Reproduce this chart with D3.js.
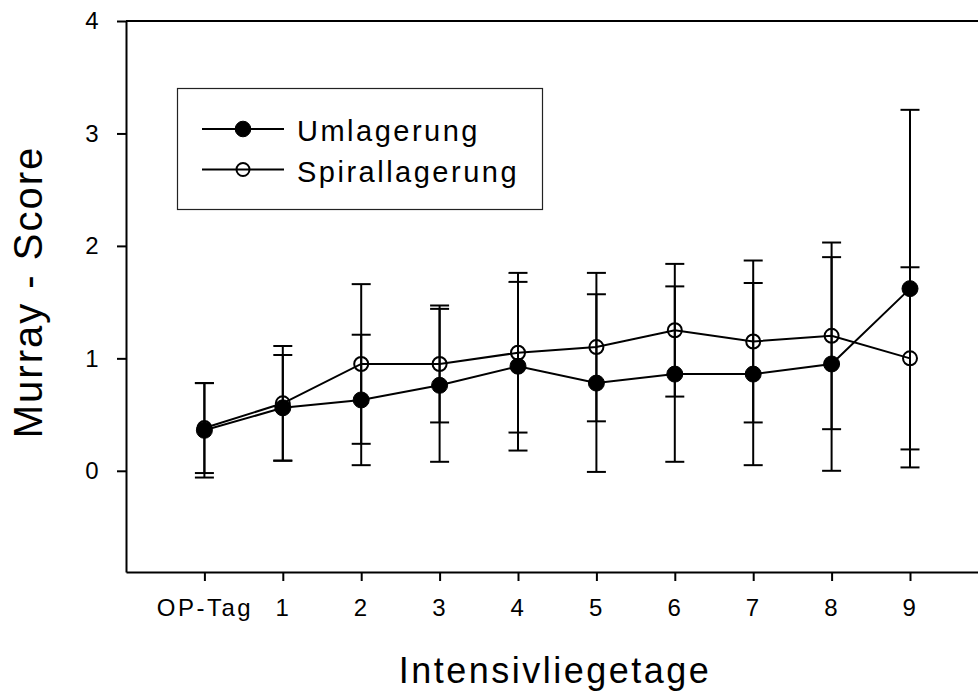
<!DOCTYPE html>
<html>
<head>
<meta charset="utf-8">
<script src="https://cdn.jsdelivr.net/npm/d3@7"></script>
<style>
  html, body { margin: 0; padding: 0; background: #fff; }
  svg { display: block; font-family: "Liberation Sans", Arial, sans-serif; }
</style>
</head>
<body>
<svg id="chart" width="978" height="691"></svg>
<script>
// Day labels along the x axis
const days = ["OP-Tag", "1", "2", "3", "4", "5", "6", "7", "8", "9"];
// Murray score, mean and standard deviation per day
const umlagerungMean = [0.36, 0.56, 0.63, 0.76, 0.93, 0.78, 0.86, 0.86, 0.95, 1.62];
const umlagerungSD   = [0.42, 0.47, 0.58, 0.68, 0.75, 0.79, 0.78, 0.81, 0.95, 1.59];
const spiralMean     = [0.38, 0.60, 0.95, 0.95, 1.05, 1.10, 1.25, 1.15, 1.20, 1.00];
const spiralSD       = [0.40, 0.51, 0.71, 0.52, 0.71, 0.66, 0.59, 0.72, 0.83, 0.81];
const yTicks = [0, 1, 2, 3, 4];
const seriesNames = ["Umlagerung", "Spirallagerung"];

const svg = d3.select("#chart");

const x = d3.scaleLinear().domain([-1, 10]).range([126, 988.4]);
const y = d3.scaleLinear().domain([-0.9, 4]).range([572, 21]);

const series = [
  { name: seriesNames[0], mean: umlagerungMean, sd: umlagerungSD, filled: true },
  { name: seriesNames[1], mean: spiralMean, sd: spiralSD, filled: false }
];

// Frame: top and right edges (the right edge lies just outside the view)
const frame = svg.append("g").attr("stroke", "#000").attr("stroke-width", 2).attr("fill", "none");
frame.append("line").attr("x1", x(-1)).attr("x2", x(10)).attr("y1", y(4)).attr("y2", y(4));
frame.append("line").attr("x1", x(10)).attr("x2", x(10)).attr("y1", y(4)).attr("y2", y(-0.9));

// Axes
const xAxis = d3.axisBottom(x)
  .tickValues(d3.range(days.length))
  .tickFormat(i => days[i])
  .tickSize(9)
  .tickSizeOuter(0)
  .tickPadding(18);
const gx = svg.append("g").attr("transform", `translate(0,${y(-0.9)})`).call(xAxis);

const yAxis = d3.axisLeft(y)
  .tickValues(yTicks)
  .tickFormat(d3.format("d"))
  .tickSize(9)
  .tickSizeOuter(0)
  .tickPadding(16);
const gy = svg.append("g").attr("transform", `translate(${x(-1)},0)`).call(yAxis);

[gx, gy].forEach(g => {
  g.select(".domain").attr("stroke", "#000").attr("stroke-width", 2);
  g.selectAll(".tick line").attr("stroke", "#000").attr("stroke-width", 2);
  g.selectAll(".tick text")
    .attr("fill", "#000")
    .style("font-size", "24px")
    .style("letter-spacing", "2.5px")
    .style("font-family", "'Liberation Sans', Arial, sans-serif");
});
gx.selectAll(".tick text").attr("dy", "0.71em");

// Axis titles
svg.append("text")
  .attr("transform", `translate(42,292) rotate(-90)`)
  .attr("text-anchor", "middle")
  .style("font-size", "40px")
  .style("letter-spacing", "2px")
  .text("Murray - Score");

svg.append("text")
  .attr("x", 555).attr("y", 683)
  .attr("text-anchor", "middle")
  .style("font-size", "36px")
  .style("letter-spacing", "2.5px")
  .text("Intensivliegetage");

const line = d3.line().x((d, i) => x(i)).y(d => y(d));

// Connecting lines
series.forEach(s => {
  svg.append("path")
    .datum(s.mean)
    .attr("d", line)
    .attr("fill", "none")
    .attr("stroke", "#000")
    .attr("stroke-width", 2);
});

// Error bars (mean ± SD)
const capHalf = 9.5;
series.forEach(s => {
  const g = svg.append("g").attr("stroke", "#000").attr("stroke-width", 2);
  s.mean.forEach((m, i) => {
    const lo = m - s.sd[i], hi = m + s.sd[i];
    g.append("line").attr("x1", x(i)).attr("x2", x(i)).attr("y1", y(lo)).attr("y2", y(hi));
    g.append("line").attr("x1", x(i) - capHalf).attr("x2", x(i) + capHalf).attr("y1", y(hi)).attr("y2", y(hi));
    g.append("line").attr("x1", x(i) - capHalf).attr("x2", x(i) + capHalf).attr("y1", y(lo)).attr("y2", y(lo));
  });
});

// Markers
series.forEach(s => {
  svg.append("g").selectAll("circle")
    .data(s.mean)
    .join("circle")
    .attr("cx", (d, i) => x(i))
    .attr("cy", d => y(d))
    .attr("r", s.filled ? 8 : 7)
    .attr("fill", s.filled ? "#000" : "none")
    .attr("stroke", "#000")
    .attr("stroke-width", s.filled ? 1 : 2);
});

// Legend
const legend = svg.append("g");
legend.append("rect")
  .attr("x", 177.5).attr("y", 88.5)
  .attr("width", 365).attr("height", 121)
  .attr("fill", "none").attr("stroke", "#222").attr("stroke-width", 1.2);

series.forEach((s, k) => {
  const cy = 129 + k * 40.5;
  legend.append("line")
    .attr("x1", 202).attr("x2", 284).attr("y1", cy).attr("y2", cy)
    .attr("stroke", "#000").attr("stroke-width", 2);
  legend.append("circle")
    .attr("cx", 243).attr("cy", cy)
    .attr("r", s.filled ? 7.8 : 6.5)
    .attr("fill", s.filled ? "#000" : "none")
    .attr("stroke", "#000").attr("stroke-width", s.filled ? 1 : 2);
  legend.append("text")
    .attr("x", 297).attr("y", cy + 12)
    .style("font-size", "29px")
    .style("letter-spacing", "2.5px")
    .text(s.name);
});
</script>
</body>
</html>
